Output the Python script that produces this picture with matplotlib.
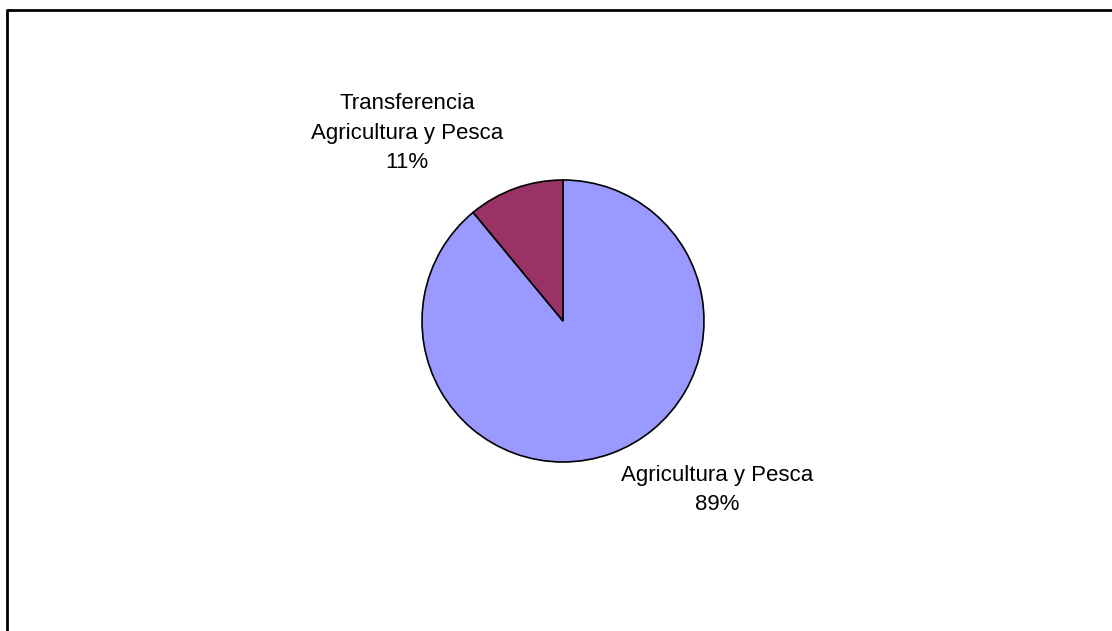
import matplotlib.pyplot as plt

labels = ["Agricultura y Pesca", "Transferencia\nAgricultura y Pesca"]
values = [89, 11]
colors = ["#9999FF", "#993366"]

W, H = 1112, 631
fig = plt.figure(figsize=(W/100, H/100), dpi=100)
ax = fig.add_axes([0, 0, 1, 1])

# pie in pixel coords (y axis flipped, so go counterclockwise to look clockwise)
ax.pie(values, colors=colors, startangle=-90, counterclock=True,
       center=(563, 321), radius=141,
       wedgeprops=dict(edgecolor="black", linewidth=1.2), frame=True)
ax.set_xlim(0, W)
ax.set_ylim(H, 0)
ax.axis("off")

# chart area border (only left and top visible)
ax.plot([7, 7, W + 5], [H + 5, 10, 10], color="black", lw=2, clip_on=False)

txt = dict(ha="center", va="center", fontsize=16, family="Liberation Sans",
           linespacing=1.55)
ax.text(407, 133, f"{labels[1]}\n{values[1]}%", **txt)
ax.text(717, 490, f"{labels[0]}\n{values[0]}%", **txt)

fig.savefig("out.png", dpi=100)
